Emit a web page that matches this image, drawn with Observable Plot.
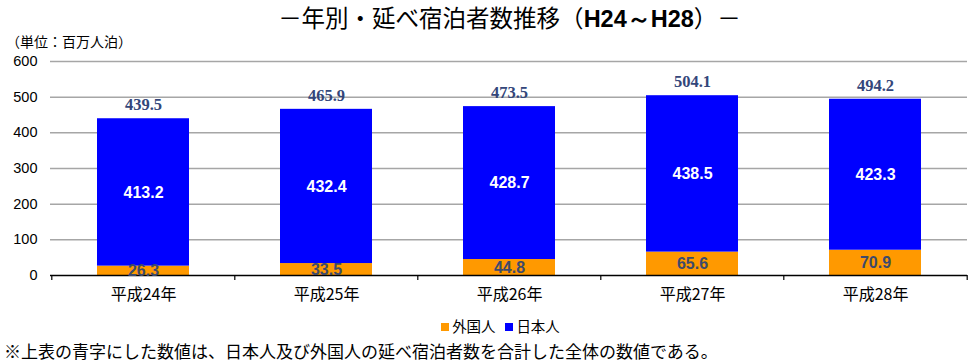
<!DOCTYPE html>
<html><head><meta charset="utf-8">
<script src="https://cdn.jsdelivr.net/npm/d3@7"></script>
<script src="https://cdn.jsdelivr.net/npm/@observablehq/plot@0.6"></script>
<style>
body{margin:0;background:#fff;width:979px;height:364px;overflow:hidden;font-family:"Noto Sans CJK JP",sans-serif;}
#wrap{position:relative;width:979px;height:364px;}
#title{height:34px;line-height:34px;text-align:center;font-size:23.5px;color:#000;white-space:nowrap;padding-left:40px;}
#title b{font-family:"Liberation Sans",Arial,sans-serif;font-weight:bold;}
#unit{position:absolute;left:6px;top:31px;font-size:14px;color:#000;}
#legend{height:16px;line-height:16px;font-size:14.5px;text-align:center;padding-left:22px;margin-top:0px;}
#legend span.sw{display:inline-block;width:8px;height:8px;margin-right:3px;vertical-align:1px;}
#foot{position:absolute;left:4px;top:340px;font-size:17px;white-space:nowrap;line-height:22px;}
</style></head>
<body><div id="wrap">
<div id="title">－年別・延べ宿泊者数推移（<b>H24～H28</b>）－</div>
<div id="unit">（単位：百万人泊）</div>
<div id="chart"></div>
<div id="legend"><span class="sw" style="background:#ff9900"></span>外国人&nbsp;&nbsp;&nbsp;<span class="sw" style="background:#0000ff"></span>日本人</div>
<div id="foot">※上表の青字にした数値は、日本人及び外国人の延べ宿泊者数を合計した全体の数値である。</div>
</div>
<script>
const years = ["平成24年","平成25年","平成26年","平成27年","平成28年"];
const foreign = [26.3, 33.5, 44.8, 65.6, 70.9];
const japanese = [413.2, 432.4, 428.7, 438.5, 423.3];
const totals = [439.5, 465.9, 473.5, 504.1, 494.2];
const yTicks = [0, 100, 200, 300, 400, 500, 600];
const gridTicks = [100, 200, 300, 400, 500, 600];
const seriesNames = ["外国人", "日本人"];
const seriesColors = ["#ff9900", "#0000ff"];

const rows = years.map((y, i) => ({year: y, foreign: foreign[i], japanese: japanese[i], total: totals[i]}));
const long = [];
years.forEach((y, i) => {
  long.push({year: y, series: seriesNames[0], value: foreign[i]});
  long.push({year: y, series: seriesNames[1], value: japanese[i]});
});

const W = 979, ML = 50, MR = 12;
const step = (W - ML - MR) / years.length;
const boundaries = years.map((y) => ({year: y, off: -step / 2})).concat([{year: years[years.length - 1], off: step / 2}]);

const chart = Plot.plot({
  width: W, height: 284,
  marginLeft: ML, marginRight: MR, marginTop: 27, marginBottom: 43,
  style: {fontFamily: "'Liberation Sans', Arial, sans-serif", fontSize: "14.5px", color: "#000", background: "#fff"},
  x: {domain: years, paddingInner: 0.5, paddingOuter: 0.25, label: null, axis: null},
  y: {domain: [0, 600], ticks: yTicks, label: null, tickSize: 0, tickPadding: 13},
  color: {domain: seriesNames, range: seriesColors},
  marks: [
    Plot.ruleY(gridTicks, {stroke: "#a6a6a6", strokeWidth: 1.5}),
    Plot.barY(long, {x: "year", y: "value", fill: "series"}),
    Plot.ruleY([0], {stroke: "#000", strokeWidth: 1.5}),
    ...boundaries.map(b => Plot.ruleX([b], {x: "year", y1: 0, y2: -14, dx: b.off, stroke: "#000", strokeWidth: 1.2})),
    Plot.axisX({tickSize: 0, tickPadding: 0, dy: 13, fontSize: 16, fontFamily: "'Noto Sans CJK JP', sans-serif", label: null}),
    Plot.text(rows, {x: "year", y: "total", text: d => d.total.toFixed(1), dy: -14, fill: "#33467a", fontSize: 16.5, fontWeight: "bold", fontFamily: "'Liberation Serif', serif"}),
    Plot.text(rows, {x: "year", y: d => d.foreign + d.japanese / 2, text: d => d.japanese.toFixed(1), fill: "#fff", fontSize: 16, fontWeight: "bold"}),
    Plot.text(rows, {x: "year", y: d => d.foreign / 2, text: d => d.foreign.toFixed(1), fill: "#3d4a6b", fontSize: 16, fontWeight: "bold"})
  ]
});
document.getElementById("chart").appendChild(chart);
</script>
</body></html>
